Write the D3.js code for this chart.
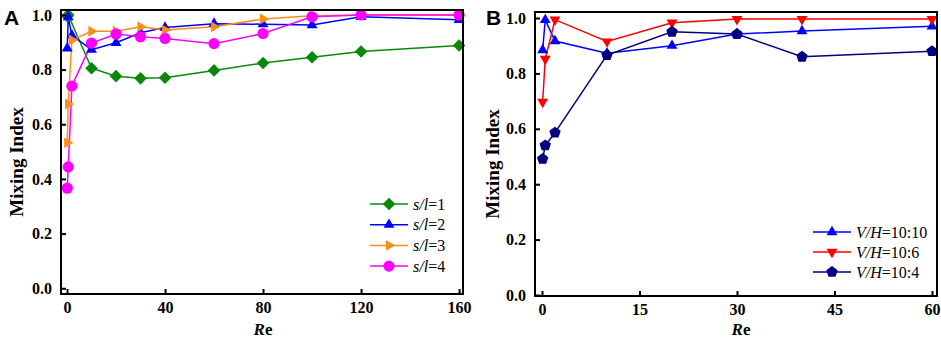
<!DOCTYPE html>
<html><head><meta charset="utf-8">
<script src="https://cdn.jsdelivr.net/npm/d3@7/dist/d3.min.js"></script>
<style>body{margin:0;background:#fff}</style>
</head><body><svg id="c" width="941" height="338"></svg>
<script>
// ---- Panel A data ----
const reA = [0.1, 0.5, 2, 10, 20, 30, 40, 60, 80, 100, 120, 160];
const sl1 = [0.995, 1.0, null, 0.805, 0.776, 0.768, 0.770, 0.797, 0.824, 0.845, 0.866, 0.888];
const sl2 = [0.878, 0.992, 0.925, 0.873, 0.898, 0.935, 0.954, 0.968, 0.966, 0.963, 0.993, 0.982];
const sl3 = [0.532, 0.674, 0.908, 0.940, 0.940, 0.957, 0.945, 0.957, 0.985, 0.997, 1.0, 1.0];
const sl4 = [0.366, 0.444, 0.740, 0.897, 0.930, 0.920, 0.914, 0.895, 0.932, 0.993, 1.0, 1.0];
const labelsA = ["1", "2", "3", "4"];
const xTicksA = [0, 40, 80, 120, 160];
// ---- Panel B data ----
const reB = [0.1, 0.5, 2, 10, 20, 30, 40, 60];
const vh1010 = [0.884, 0.993, 0.917, 0.873, 0.900, 0.942, 0.953, 0.970];
const vh106 = [0.697, 0.852, 0.994, 0.915, 0.983, 0.996, 0.996, 0.996];
const vh104 = [0.491, 0.540, 0.586, 0.866, 0.950, 0.942, 0.860, 0.880];
const labelsB = ["10:10", "10:6", "10:4"];
const xTicksB = [0, 15, 30, 45, 60];
const yTicks = [0, 0.2, 0.4, 0.6, 0.8, 1.0];

const svg = d3.select("#c");
const SERIF = "Liberation Serif, Times New Roman, serif";

function poly(R, angles) {
  const pts = angles.map(a => [R * Math.cos(a * Math.PI / 180), R * Math.sin(a * Math.PI / 180)]);
  return "M" + pts.map(p => p[0].toFixed(2) + "," + p[1].toFixed(2)).join("L") + "Z";
}
const shapes = {
  diamond: "M0,-6.3L6.3,0L0,6.3L-6.3,0Z",
  triUp: poly(6.3, [-90, 30, 150]),
  triDown: poly(6.3, [90, 210, 330]),
  triRight: poly(6.3, [0, 120, 240]),
  circle: d3.symbol(d3.symbolCircle, Math.PI * 5.6 * 5.6)(),
  pentagon: poly(6, [-90, -18, 54, 126, 198])
};

function panel(o) {
  const g = svg.append("g");
  const x = d3.scaleLinear().domain(o.xDomain).range([o.left, o.right]);
  const y = d3.scaleLinear().domain(o.yDomain).range([o.bottom, o.top]);

  o.series.forEach(s => {
    const pts = o.xs.map((v, i) => [v, s.values[i]]).filter(p => p[1] != null);
    g.append("path").datum(pts)
      .attr("fill", "none").attr("stroke", s.color).attr("stroke-width", 1.5)
      .attr("d", d3.line().x(p => x(p[0])).y(p => y(p[1])));
  });
  o.series.forEach(s => {
    const pts = o.xs.map((v, i) => [v, s.values[i]]).filter(p => p[1] != null);
    g.selectAll(null).data(pts).enter().append("path")
      .attr("d", shapes[s.shape]).attr("fill", s.color)
      .attr("transform", p => `translate(${x(p[0])},${y(p[1])})`);
  });

  g.append("rect").attr("x", o.left).attr("y", o.top)
    .attr("width", o.right - o.left).attr("height", o.bottom - o.top)
    .attr("fill", "none").attr("stroke", "#000").attr("stroke-width", 2);

  const ya = g.append("g").attr("transform", `translate(${o.left},0)`)
    .call(d3.axisLeft(y).tickValues(yTicks).tickFormat(d3.format(".1f")).tickSizeInner(-5).tickSizeOuter(0).tickPadding(9));
  ya.select(".domain").remove();
  ya.selectAll("line").attr("stroke-width", 2);
  ya.selectAll("text").attr("font-family", SERIF).attr("font-weight", "bold").attr("font-size", 16).attr("fill", "#000");

  const xa = g.append("g").attr("transform", `translate(0,${o.bottom})`)
    .call(d3.axisBottom(x).tickValues(o.xTicks).tickSizeInner(-5).tickSizeOuter(0).tickPadding(8));
  xa.select(".domain").remove();
  xa.selectAll("line").attr("stroke-width", 2);
  xa.selectAll("text").attr("font-family", SERIF).attr("font-weight", "bold").attr("font-size", 16).attr("fill", "#000");

  const xt = g.append("text").attr("x", o.xTitleX).attr("y", 335).attr("text-anchor", "middle")
    .attr("font-family", SERIF).attr("font-weight", "bold").attr("font-size", 17);
  xt.append("tspan").attr("font-style", "italic").text("R");
  xt.append("tspan").text("e");

  g.append("text").attr("transform", `translate(${o.yTitleX},${o.yTitleY}) rotate(-90)`)
    .attr("text-anchor", "middle").attr("font-family", SERIF).attr("font-weight", "bold")
    .attr("font-size", 19).text("Mixing Index");

  g.append("text").attr("x", o.letterX).attr("y", 25)
    .attr("font-family", "Liberation Sans, Arial, sans-serif").attr("font-weight", "bold")
    .attr("font-size", 21).text(o.letter);

  o.series.forEach((s, i) => {
    const ly = o.legY + i * o.legDy;
    g.append("line").attr("x1", o.legX).attr("x2", o.legX + 38).attr("y1", ly).attr("y2", ly)
      .attr("stroke", s.color).attr("stroke-width", 1.5);
    g.append("path").attr("d", shapes[s.shape]).attr("fill", s.color)
      .attr("transform", `translate(${o.legX + 19},${ly})`);
    const t = g.append("text").attr("x", o.legX + 43).attr("y", ly + 5.5)
      .attr("font-family", SERIF).attr("font-size", 16).attr("fill", "#000");
    t.append("tspan").attr("font-style", "italic").text(o.legPrefix);
    t.append("tspan").text("=" + s.label);
  });
}

panel({
  left: 61, right: 463, top: 10, bottom: 294,
  xDomain: [-2.45, 161.6], yDomain: [-0.021, 1.018],
  xs: reA, xTicks: xTicksA,
  series: [
    { values: sl1, color: "#0a880a", shape: "diamond", label: labelsA[0] },
    { values: sl2, color: "#0000ff", shape: "triUp", label: labelsA[1] },
    { values: sl3, color: "#ff8c1a", shape: "triRight", label: labelsA[2] },
    { values: sl4, color: "#ff00ff", shape: "circle", label: labelsA[3] }
  ],
  xTitleX: 263, yTitleX: 23, yTitleY: 162, letter: "A", letterX: 4,
  legX: 370, legY: 204, legDy: 20.7, legPrefix: "s/l"
});

panel({
  left: 535, right: 937, top: 12, bottom: 296,
  xDomain: [-1.077, 60.77], yDomain: [-0.0036, 1.0217],
  xs: reB, xTicks: xTicksB,
  series: [
    { values: vh1010, color: "#0000ff", shape: "triUp", label: labelsB[0] },
    { values: vh106, color: "#ff0000", shape: "triDown", label: labelsB[1] },
    { values: vh104, color: "#000080", shape: "pentagon", label: labelsB[2] }
  ],
  xTitleX: 741, yTitleX: 499, yTitleY: 164, letter: "B", letterX: 486,
  legX: 813, legY: 232, legDy: 20, legPrefix: "V/H"
});
</script>
</body></html>
